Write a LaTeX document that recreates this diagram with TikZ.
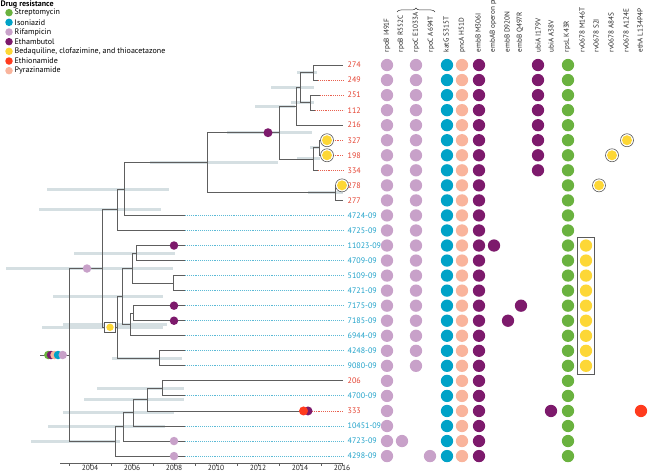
\documentclass[tikz,border=0pt]{standalone}
\usepackage{fontspec}
\setmainfont{PT Sans}
\usetikzlibrary{decorations.pathreplacing, fit}

\definecolor{strc}{HTML}{6AB23F}
\definecolor{isoc}{HTML}{00A2C7}
\definecolor{rifc}{HTML}{C8A1C9}
\definecolor{embc}{HTML}{7D1A6C}
\definecolor{bdqc}{HTML}{FDD736}
\definecolor{ethc}{HTML}{FF3B1E}
\definecolor{pzac}{HTML}{F9B49C}
\definecolor{labred}{HTML}{E4402F}
\definecolor{labcyan}{HTML}{1EA1C9}
\definecolor{dotred}{HTML}{E8604F}
\definecolor{dotcyan}{HTML}{5CBAD6}
\definecolor{hpdc}{HTML}{D5DFE2}
\definecolor{brc}{HTML}{5E5E5E}
\definecolor{ringc}{HTML}{5A5A5A}

\tikzset{
  branch/.style={draw=brc, line width=0.9pt},
  hpd/.style={draw=hpdc, line width=3pt},
  tipdots/.style={densely dotted, line width=0.9pt, shorten >=2pt},
  tiplab/.style={anchor=west, inner sep=2pt, font=\fontsize{8}{9}\selectfont},
  hdr/.style={rotate=90, anchor=west, inner sep=0pt, font=\fontsize{7.2}{8}\selectfont, text=black!85},
  dotm/.style={circle, fill=#1, inner sep=0pt, minimum size=12.3pt},
  tdot/.style={circle, fill=#1, inner sep=0pt, minimum size=8.5pt},
  legdot/.style={circle, fill=#1, inner sep=0pt, minimum size=7.5pt},
  legtxt/.style={anchor=west, inner sep=0pt, font=\fontsize{8}{9}\selectfont},
  bdqring/.style={circle, inner sep=0pt, minimum size=13pt, draw=ringc, line width=0.6pt, fill=white,
    path picture={\fill[bdqc] (path picture bounding box.center) circle (5pt);}},
  bdqbox/.style={rectangle, inner sep=0pt, minimum width=11.5pt, minimum height=10.7pt, draw=ringc,
    line width=0.7pt, fill=white,
    path picture={\fill[bdqc] (path picture bounding box.center) circle (3.7pt);}},
  yearaxis/.style={draw=brc, line width=0.7pt},
  yrlab/.style={anchor=north, inner sep=0pt, font=\fontsize{7.5}{8}\selectfont, text=black!85}
}

\begin{document}
\begin{tikzpicture}[x=1pt, y=-1pt]
\useasboundingbox (0,0) rectangle (661,473);

% legend
\node[anchor=base west, inner sep=0pt, font=\fontsize{8}{9}\selectfont\bfseries] (leg) at (0.5,6.5) {Drug resistance};
\foreach \col/\txt [count=\k] in {strc/Streptomycin, isoc/Isoniazid, rifc/Rifampicin, embc/Ethambutol,
    bdqc/{Bedaquiline, clofazimine, and thioacetazone}, ethc/Ethionamide, pzac/Pyrazinamide}
{
  \node[legdot=\col] (k\k) at (9,{3+9.67*\k}) {};
  \node[legtxt] (kt\k) at (14.5,{3+9.67*\k}) {\txt};
}

% confidence bars
\foreach \y/\a/\b in {72.5/297/317, 87.6/271/314, 102.6/291/314, 106.4/255/295, 132.7/227/312,
    147.8/310/320, 159/297/320, 162.8/150/278, 192.9/308/343, 189.1/47/169, 209.8/39/161,
    253/74/175, 268/6/173, 296.3/53/163, 324.5/63/167, 327.3/42/163, 358.3/112/182,
    388.4/97/184, 399.7/84/184, 412.8/63/174, 426.9/48/165, 441.5/31/120}
  \draw[hpd] (\a,\y) -- (\b,\y);

% tips
\foreach \i/\tx in {1/343, 2/318, 3/320, 4/315, 5/343, 6/327, 7/327, 8/318, 9/342, 10/343,
    11/185, 12/185, 13/185, 14/185, 15/185, 16/185, 17/185, 18/185, 19/185, 20/185, 21/185,
    22/343, 23/185, 24/308, 25/185, 26/185, 27/185}
  \coordinate (t\i) at (\tx,{50+15.04*\i});

% internal nodes
\coordinate (a1) at (313,72.5);
\coordinate (a2) at (310,102.6);
\coordinate (a3) at (300,87.6);
\coordinate (a4) at (296,106.4);
\coordinate (a5) at (319,147.8);
\coordinate (a6) at (313,159);
\coordinate (a7) at (279,132.7);
\coordinate (a8) at (335,192.9);
\coordinate (a9) at (207,162.8);
\coordinate (b1) at (124,189.1);
\coordinate (b2) at (117,209.8);
\coordinate (b3) at (102,268.5);
\coordinate (c1) at (117,327.3);
\coordinate (c2) at (122,296.3);
\coordinate (c3) at (132,268);
\coordinate (c4) at (136,253);
\coordinate (c5) at (130,324.5);
\coordinate (c6) at (159,358.3);
\coordinate (c7) at (173,283.1);
\coordinate (c8) at (133,313.2);
\coordinate (d1) at (115,441.5);
\coordinate (d2) at (123,426.9);
\coordinate (d3) at (133,412.8);
\coordinate (d4) at (147,399.7);
\coordinate (d5) at (162,388.4);
\coordinate (r) at (69,355);
\coordinate (stem) at (40,355);

% branches
\draw[branch] (stem) -- (r);
\foreach \p/\c in {a1/t1, a1/t2, a2/t3, a2/t4, a3/a1, a3/a2, a4/a3, a4/t5, a5/t6, a5/t7,
    a6/a5, a6/t8, a7/a4, a7/a6, a8/t9, a8/t10, a9/a7, a9/a8, b1/a9, b1/t11, b2/b1, b2/t12,
    c4/t13, c4/t14, c7/t15, c7/t16, c3/c4, c3/c7, c8/t17, c8/t18, c5/c8, c5/t19, c2/c3, c2/c5,
    c6/t20, c6/t21, c1/c2, c1/c6, b3/b2, b3/c1, d5/t22, d5/t23, d4/d5, d4/t24, d3/d4, d3/t25,
    d2/d3, d2/t26, d1/d2, d1/t27, r/b3, r/d1}
  \draw[branch] (\p) |- (\c);

% isolate labels
\foreach \lab/\col [count=\i] in {274/labred, 249/labred, 251/labred, 112/labred, 216/labred,
    327/labred, 198/labred, 334/labred, 278/labred, 277/labred, 4724-09/labcyan, 4725-09/labcyan,
    11023-09/labcyan, 4709-09/labcyan, 5109-09/labcyan, 4721-09/labcyan, 7175-09/labcyan,
    7185-09/labcyan, 6944-09/labcyan, 4248-09/labcyan, 9080-09/labcyan, 206/labred,
    4700-09/labcyan, 333/labred, 10451-09/labcyan, 4723-09/labcyan, 4298-09/labcyan}
  \node[tiplab, text=\col] (L\i) at (345.5,{50+15.04*\i}) {\lab};

\foreach \i/\col in {2/dotred, 3/dotred, 4/dotred, 6/dotred, 7/dotred, 8/dotred,
    11/dotcyan, 12/dotcyan, 13/dotcyan, 14/dotcyan, 15/dotcyan, 16/dotcyan, 17/dotcyan,
    18/dotcyan, 19/dotcyan, 20/dotcyan, 21/dotcyan, 23/dotcyan, 24/dotred, 25/dotcyan,
    26/dotcyan, 27/dotcyan}
  \draw[tipdots, \col] (t\i) -- (L\i.west);

% mutations on the tree
\foreach \col/\x [count=\k] in {strc/48.3, embc/51, pzac/54.5, isoc/58, rifc/62.7}
  \node[tdot=\col] (s\k) at (\x,355) {};
\node[tdot=rifc] (e1) at (87,268.5) {};
\node[bdqbox] (e2) at (110,327.3) {};
\node[tdot=embc, minimum size=9pt] (e3) at (268,132.7) {};
\node[tdot=embc] (e4) at (174,245.52) {};
\node[tdot=embc] (e5) at (174,305.68) {};
\node[tdot=embc] (e6) at (174,320.72) {};
\node[tdot=rifc] (e7) at (174,441.04) {};
\node[tdot=rifc] (e8) at (174,456.08) {};
\node[tdot=embc, minimum size=9pt] (e9) at (308,410.96) {};
\node[tdot=ethc, minimum size=9pt] (e10) at (303.5,410.96) {};
\node[bdqring] (e11) at (t6) {};
\node[bdqring] (e12) at (t7) {};
\node[bdqring] (e13) at (t9) {};

% time axis
\draw[yearaxis] (60,463) -- (342,463);
\foreach \yr in {2003,...,2016}
  \draw[yearaxis] ({90+21*(\yr-2004)},463) -- ++(0,3);
\foreach \yr in {2004,2006,...,2016}
  \node[yrlab] (y\yr) at ({90+21*(\yr-2004)},465) {\yr};

% mutation columns
\foreach \x [count=\c] in {387,402,416,430,447,462,479,494,508,521,538,551,568,586,599,612,627,641}
  \coordinate (c\c) at (\x,0);
\foreach \x/\txt [count=\c] in {387/rpoB I491F, 401/rpoB R552C, 416/rpoC E1033A, 431/rpoC A694T,
    446/katG S315T, 462/pncA H51D, 478/embB M306I, 493/embAB operon pr, 507/embB D920N,
    520/embB Q497R, 538/ubiA I179V, 551/ubiA A38V, 567/rpsL K43R, 582/rv0678 M146T,
    596/rv0678 S2I, 611/rv0678 A84S, 626/rv0678 A124E, 640/ethA L134P4P}
  \node[hdr] (g\c) at (\x,52.5) {\txt};
\draw[decorate, decoration={brace, amplitude=4pt}, draw=black!80, line width=0.5pt] (397,12) -- (435,12);

\foreach \c/\col/\rows in {1/rifc/{1,...,27}, 2/rifc/{26}, 3/rifc/{1,...,21}, 4/rifc/{27},
    5/isoc/{1,...,27}, 6/pzac/{1,...,27}, 7/embc/{1,...,27}, 8/embc/{13}, 9/embc/{18},
    10/embc/{17}, 11/embc/{1,...,8}, 12/embc/{24}, 13/strc/{1,...,27}, 14/bdqc/{13,...,21},
    18/ethc/{24}}
  \foreach \r in \rows
    \node[dotm=\col] (m\r-\c) at (c\c |- L\r) {};
\node[bdqring] (m6-17) at (c17 |- L6) {};
\node[bdqring] (m7-16) at (c16 |- L7) {};
\node[bdqring] (m9-15) at (c15 |- L9) {};
\node[draw=ringc, line width=0.7pt, inner sep=2pt, fit=(m13-14)(m21-14)] (bdqset) {};

\end{tikzpicture}
\end{document}
